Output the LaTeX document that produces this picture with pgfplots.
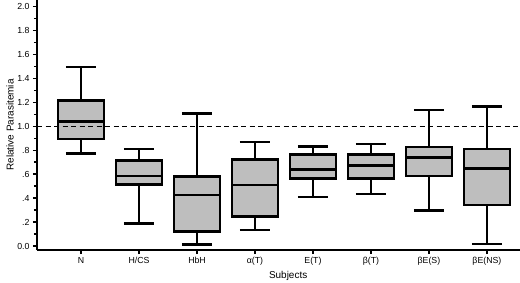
\documentclass[border=0pt]{standalone}
\usepackage{pgfplots}
\pgfplotsset{compat=1.18}
\usepgfplotslibrary{statistics}
\usepackage{fontspec}
\setmainfont{Liberation Sans}
\definecolor{boxgray}{RGB}{190,190,190}
\begin{document}
\begin{tikzpicture}
\begin{axis}[
  scale only axis, width=483bp, height=250bp,
  xmin=-0.76, xmax=7.57, ymin=-0.033, ymax=2.056,
  axis x line*=bottom, axis y line*=left,
  axis line style={line width=2.5bp, -},
  xtick={0,1,2,3,4,5,6,7},
  xticklabels={N,H/CS,HbH,α(T),E(T),β(T),βE(S),βE(NS)},
  ytick={0,0.2,0.4,0.6,0.8,1,1.2,1.4,1.6,1.8,2},
  yticklabels={0.0,.2,.4,.6,.8,1.0,1.2,1.4,1.6,1.8,2.0},
  minor ytick={0.1,0.3,0.5,0.7,0.9,1.1,1.3,1.5,1.7,1.9},
  tick align=outside,
  major tick length=4bp, minor tick length=3bp,
  every tick/.style={line width=1.6bp, black},
  every tick label/.append style={font=\fontsize{8.8}{10}\selectfont},
  xlabel={Subjects}, ylabel={Relative Parasitemia},
  label style={font=\fontsize{10.5}{12}\selectfont},
  every axis y label/.style={at={(axis description cs:-0.0559,0.5)}, rotate=90, anchor=center},
  every axis x label/.style={at={(axis description cs:0.52,-0.104)}, anchor=center},
  boxplot/draw direction=y,
  boxplot/every median/.style={line width=2.5bp},
  clip=false,
]
\pgfplotsset{myb/.style={draw=black, fill=boxgray, line width=2.5bp}}
\addplot[myb, boxplot prepared={draw position=0, lower whisker=0.775, lower quartile=0.893, median=1.04, upper quartile=1.218, upper whisker=1.495, box extend=0.79, whisker extend=0.52}] coordinates {};
\addplot[myb, boxplot prepared={draw position=1, lower whisker=0.19, lower quartile=0.514, median=0.585, upper quartile=0.716, upper whisker=0.81, box extend=0.79, whisker extend=0.52}] coordinates {};
\addplot[myb, boxplot prepared={draw position=2, lower whisker=0.014, lower quartile=0.122, median=0.425, upper quartile=0.58, upper whisker=1.106, box extend=0.79, whisker extend=0.52}] coordinates {};
\addplot[myb, boxplot prepared={draw position=3, lower whisker=0.136, lower quartile=0.247, median=0.51, upper quartile=0.722, upper whisker=0.87, box extend=0.79, whisker extend=0.52}] coordinates {};
\addplot[myb, boxplot prepared={draw position=4, lower whisker=0.41, lower quartile=0.564, median=0.64, upper quartile=0.767, upper whisker=0.83, box extend=0.79, whisker extend=0.52}] coordinates {};
\addplot[myb, boxplot prepared={draw position=5, lower whisker=0.436, lower quartile=0.564, median=0.672, upper quartile=0.767, upper whisker=0.853, box extend=0.79, whisker extend=0.52}] coordinates {};
\addplot[myb, boxplot prepared={draw position=6, lower whisker=0.295, lower quartile=0.586, median=0.742, upper quartile=0.828, upper whisker=1.136, box extend=0.79, whisker extend=0.52}] coordinates {};
\addplot[myb, boxplot prepared={draw position=7, lower whisker=0.017, lower quartile=0.342, median=0.65, upper quartile=0.81, upper whisker=1.167, box extend=0.79, whisker extend=0.52}] coordinates {};
\addplot[black, line width=1.7bp, dash pattern=on 5bp off 3.5bp] coordinates {(-0.76,1) (7.57,1)};
\end{axis}
\pgfresetboundingbox
\path ([xshift=-37bp,yshift=-33bp]current axis.south west) rectangle (current axis.north east);
\end{tikzpicture}
\end{document}
